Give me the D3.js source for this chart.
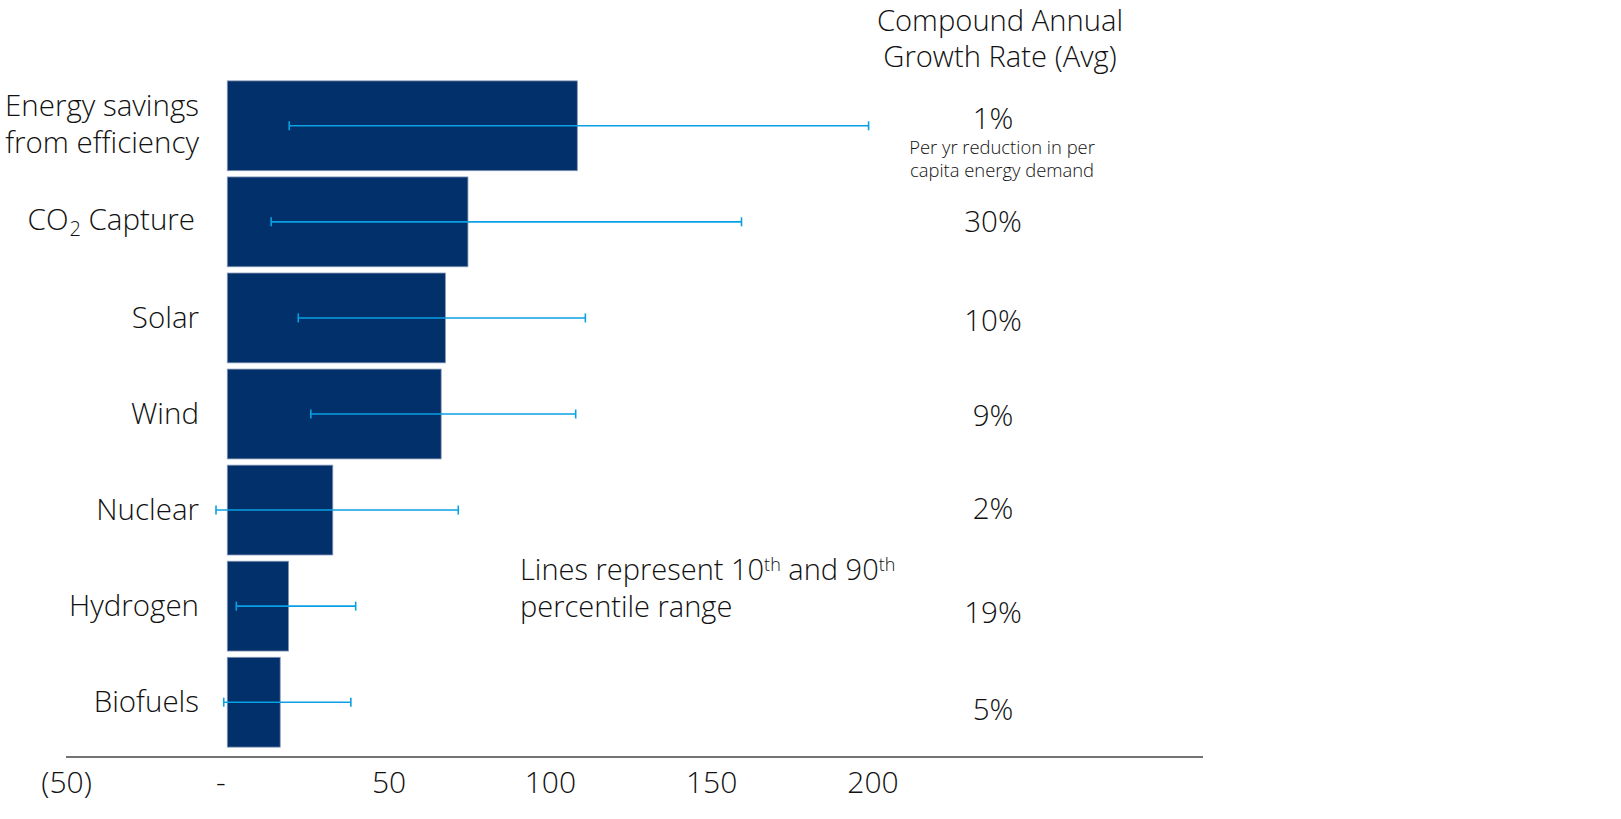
<!doctype html>
<html>
  <head>
    <script src="https://cdn.jsdelivr.net/npm/d3@7"></script>
    <style>
      body { margin: 0; background: #fff; }
      text { font-family: "Open Sans", Lato, sans-serif; font-weight: 300; fill: #111; }
    </style>
  </head>
  <body>
    <svg id="chart" width="1621" height="819"></svg>

    <script>
      // categories, top to bottom
      var categories = ["Energy savings from efficiency", "CO2 Capture", "Solar", "Wind", "Nuclear", "Hydrogen", "Biofuels"];
      // bar values
      var values = [108.5, 74.6, 67.6, 66.3, 32.7, 19.0, 16.4];
      // 10th and 90th percentile range
      var p10 = [19.2, 13.6, 22.0, 25.9, -3.5, 2.8, -1.1];
      var p90 = [198.8, 159.4, 111.0, 108.0, 71.6, 39.8, 38.3];
      // compound annual growth rate labels
      var cagr = ["1%", "30%", "10%", "9%", "2%", "19%", "5%"];
      var tickValues = [-50, 0, 50, 100, 150, 200];

      var svg = d3.select("#chart");

      var x = d3.scaleLinear().domain([-50, 302]).range([66, 1201.5]);
      var y = d3.scaleBand()
        .domain(categories)
        .range([78, 750])
        .paddingInner(0.065)
        .paddingOuter(0.03);

      var rows = categories.map(function(c, i) {
        return { name: c, value: values[i], lo: p10[i], hi: p90[i], cagr: cagr[i] };
      });

      // bars
      svg.append("g").selectAll("rect")
        .data(rows)
        .enter()
        .append("rect")
          .attr("x", x(0))
          .attr("y", function(d) { return y(d.name); })
          .attr("width", function(d) { return x(d.value) - x(0); })
          .attr("height", y.bandwidth())
          .attr("fill", "#01306a")
          .attr("stroke", "#8596b6")
          .attr("stroke-width", 0.8);

      // percentile lines
      var err = svg.append("g")
        .attr("stroke", "#0aa0e4")
        .attr("stroke-width", 1.6);
      var mid = function(d) { return y(d.name) + y.bandwidth() / 2; };
      err.selectAll("line.range")
        .data(rows)
        .enter()
        .append("line")
          .attr("class", "range")
          .attr("x1", function(d) { return x(d.lo); })
          .attr("x2", function(d) { return x(d.hi); })
          .attr("y1", mid)
          .attr("y2", mid);
      ["lo", "hi"].forEach(function(k) {
        err.selectAll("line.cap-" + k)
          .data(rows)
          .enter()
          .append("line")
            .attr("class", "cap-" + k)
            .attr("x1", function(d) { return x(d[k]); })
            .attr("x2", function(d) { return x(d[k]); })
            .attr("y1", function(d) { return mid(d) - 4.5; })
            .attr("y2", function(d) { return mid(d) + 4.5; });
      });

      // category labels
      var labels = svg.append("g")
        .attr("text-anchor", "end")
        .attr("font-size", 29.5);
      rows.forEach(function(d) {
        var t = labels.append("text")
          .attr("x", 199)
          .attr("y", mid(d) + 10);
        if (d.name === "Energy savings from efficiency") {
          t.attr("y", mid(d) - 10);
          t.append("tspan").attr("x", 199).text("Energy savings");
          t.append("tspan").attr("x", 199).attr("dy", 37).text("from efficiency");
        } else if (d.name === "CO2 Capture") {
          t.attr("x", 195).attr("y", mid(d) + 8);
          t.append("tspan").text("CO");
          t.append("tspan").attr("font-size", 20).attr("dx", 1).attr("dy", 6).text("2");
          t.append("tspan").attr("dy", -6).text(" Capture");
        } else {
          t.text(d.name);
        }
      });

      // CAGR column
      var cx = 993;
      var header = svg.append("text")
        .attr("text-anchor", "middle")
        .attr("font-size", 29.2)
        .attr("y", 31);
      header.append("tspan").attr("x", 1000).text("Compound Annual");
      header.append("tspan").attr("x", 1000).attr("dy", 36).text("Growth Rate (Avg)");

      // vertical nudge of each CAGR label against its band centre
      var cagrNudge = [-7, 0, 3, 2, -1, 7, 8];
      svg.append("g")
        .attr("text-anchor", "middle")
        .attr("font-size", 29.5)
        .selectAll("text")
        .data(rows)
        .enter()
        .append("text")
          .attr("x", cx)
          .attr("y", function(d, i) { return mid(d) + 10 + cagrNudge[i]; })
          .text(function(d) { return d.cagr; });

      var note = svg.append("text")
        .attr("text-anchor", "middle")
        .attr("font-size", 18.4)
        .attr("y", mid(rows[0]) + 28);
      note.append("tspan").attr("x", 1002).text("Per yr reduction in per");
      note.append("tspan").attr("x", 1002).attr("dy", 23).text("capita energy demand");

      // annotation
      var ann = svg.append("text")
        .attr("font-size", 29)
        .attr("x", 520)
        .attr("y", 580);
      ann.append("tspan").text("Lines represent 10");
      ann.append("tspan").attr("font-size", 18).attr("dy", -9).text("th");
      ann.append("tspan").attr("dy", 9).text(" and 90");
      ann.append("tspan").attr("font-size", 18).attr("dy", -9).text("th");
      ann.append("tspan").attr("x", 520).attr("dy", 46).text("percentile range");

      // x axis
      var axisY = 757;
      svg.append("line")
        .attr("x1", x(-50))
        .attr("x2", 1203)
        .attr("y1", axisY)
        .attr("y2", axisY)
        .attr("stroke", "#444")
        .attr("stroke-width", 1.3);

      var axis = svg.append("g")
        .attr("transform", "translate(0," + axisY + ")")
        .call(d3.axisBottom(x)
          .tickValues(tickValues)
          .tickSize(0)
          .tickPadding(15)
          .tickFormat(function(v) {
            if (v < 0) return "(" + Math.abs(v) + ")";
            if (v === 0) return "-";
            return v;
          }));
      axis.select(".domain").remove();
      axis.selectAll("text")
        .attr("font-size", 30)
        .attr("fill", "#111")
        .style("font-family", "'Open Sans', Lato, sans-serif")
        .attr("dx", function(v) { return v === 0 ? -7 : 0; });
    </script>
  </body>
</html>
